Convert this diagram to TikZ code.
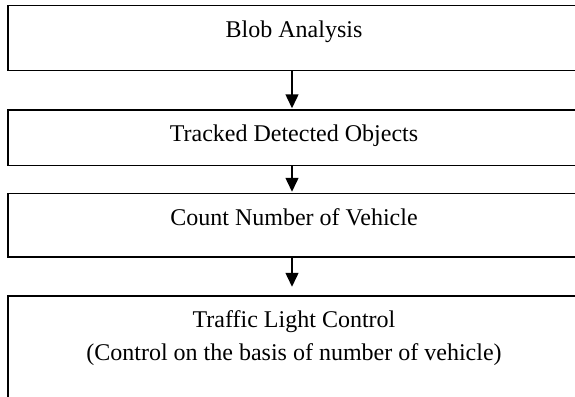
\documentclass[tikz,border=0pt]{standalone}
\usepackage{fontspec}
\setmainfont{Liberation Serif}
\usetikzlibrary{arrows.meta}
\begin{document}
\begin{tikzpicture}[x=1pt,y=-1pt,
  stagebox/.style={draw=black, line width=1.5pt, rectangle, inner sep=0pt, minimum width=572pt},
  stagetext/.style={anchor=base, inner sep=0pt, font=\fontsize{24}{32.7}\selectfont, align=center},
  flowarrow/.style={line width=1.5pt, -{Triangle[length=14pt,width=13pt]}}]
\useasboundingbox (0,0) rectangle (575,396);
\clip (0,0) rectangle (575,396);
\node[stagebox, minimum height=65pt] (b1) at (294,38.2) {};
\node[stagebox, minimum height=55.7pt] (b2) at (294,137.85) {};
\node[stagebox, minimum height=63.5pt] (b3) at (294,225.25) {};
\node[stagebox, minimum height=140pt] (b4) at (294,366) {};
\node[stagetext] (t1) at (294,37.7) {Blob Analysis};
\node[stagetext] (t2) at (294,141.7) {Tracked Detected Objects};
\node[stagetext] (t3) at (294,225) {Count Number of Vehicle};
\node[stagetext] (t4) at (294,327.3) {Traffic Light Control};
\node[stagetext] (t5) at (294,360) {(Control on the basis of number of vehicle)};
\draw[flowarrow, shorten >=1pt] (b1.south -| 292,0) -- (b2.north -| 292,0);
\draw[flowarrow, shorten >=1pt] (b2.south -| 292,0) -- (b3.north -| 292,0);
\draw[flowarrow, shorten >=8.5pt] (b3.south -| 292,0) -- (b4.north -| 292,0);
\end{tikzpicture}
\end{document}
